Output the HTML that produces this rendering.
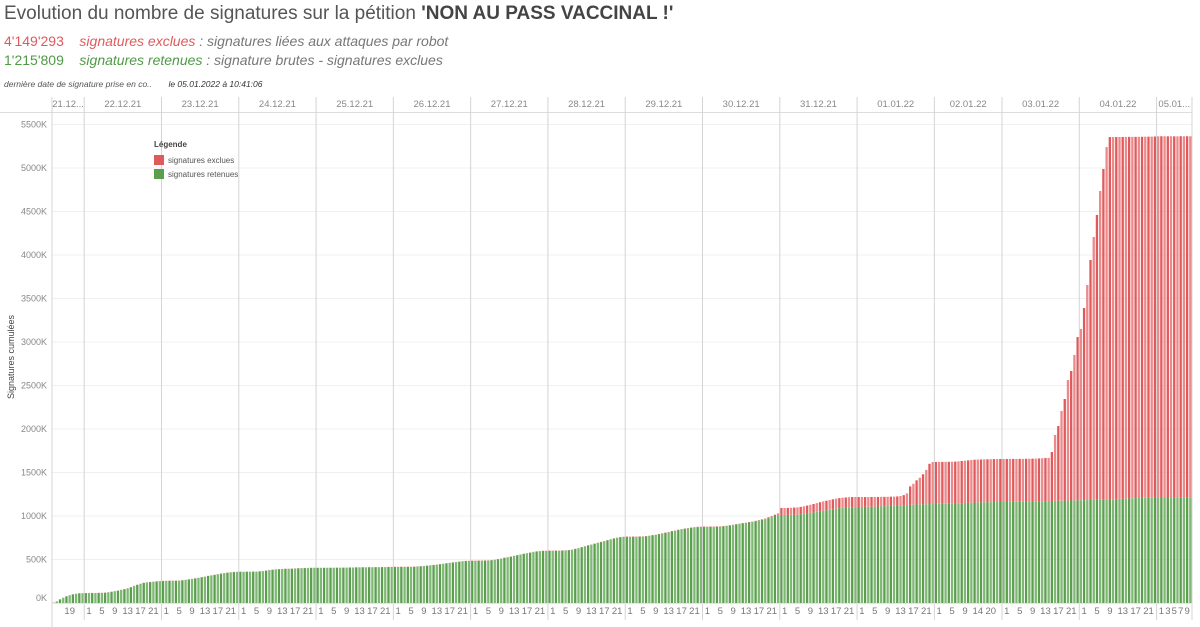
<!DOCTYPE html>
<html><head><meta charset="utf-8">
<style>
body{margin:0;background:#fff;width:1200px;height:627px;overflow:hidden;font-family:"Liberation Sans",sans-serif;}
.t{position:absolute;white-space:nowrap;}
</style></head>
<body>
<div class="t" style="left:4px;top:3px;font-size:19px;color:#555;">Evolution du nombre de signatures sur la pétition <b style="color:#444">'NON AU PASS VACCINAL !'</b></div>
<div class="t" style="left:4px;top:33px;font-size:14px;color:#777;"><span style="color:#e05a5c">4'149'293</span>&nbsp;&nbsp;&nbsp;&nbsp;<i><span style="color:#e05a5c">signatures exclues</span> : signatures liées aux attaques par robot</i></div>
<div class="t" style="left:4px;top:52px;font-size:14px;color:#777;"><span style="color:#4f9a45">1'215'809</span>&nbsp;&nbsp;&nbsp;&nbsp;<i><span style="color:#4f9a45">signatures retenues</span> : signature brutes - signatures exclues</i></div>
<div class="t" style="left:4px;top:79px;font-size:8.5px;color:#555;font-style:italic;">dernière date de signature prise en co..&nbsp;&nbsp;&nbsp;&nbsp;&nbsp;&nbsp;&nbsp;<span style="color:#333">le 05.01.2022 à 10:41:06</span></div>
<svg id="chart" width="1200" height="627" style="position:absolute;left:0;top:0;" xmlns="http://www.w3.org/2000/svg"></svg>
<script>
const dayNames=["21.12...","22.12.21","23.12.21","24.12.21","25.12.21","26.12.21","27.12.21","28.12.21","29.12.21","30.12.21","31.12.21","01.01.22","02.01.22","03.01.22","04.01.22","05.01..."];
const H24=[0,1,2,3,4,5,6,7,8,9,10,11,12,13,14,15,16,17,18,19,20,21,22,23];
const dayHours=[[14,15,16,17,18,19,20,21,22,23],H24,H24,H24,H24,H24,H24,H24,H24,H24,H24,H24,
[0,1,2,3,4,5,6,7,8,9,11,12,13,14,15,17,18,20,21,22,23],H24,H24,[0,1,2,3,4,5,6,7,8,9,10]];
const dayLabels=[[19],[1,5,9,13,17,21],[1,5,9,13,17,21],[1,5,9,13,17,21],[1,5,9,13,17,21],[1,5,9,13,17,21],[1,5,9,13,17,21],[1,5,9,13,17,21],[1,5,9,13,17,21],[1,5,9,13,17,21],[1,5,9,13,17,21],[1,5,9,13,17,21],[1,5,9,14,20],[1,5,9,13,17,21],[1,5,9,13,17,21],[1,3,5,7,9]];
// values in thousands
const greenK=[
[3,18,40,60,75,88,98,105,110,112],
[113,114,114,114,115,116,118,122,128,135,142,150,158,168,180,195,208,220,230,236,240,244,247,250],
[252,254,255,256,256,257,260,265,270,276,282,288,295,302,310,316,322,330,337,343,348,352,355,357],
[358,358,359,359,360,360,362,366,372,378,382,385,388,390,392,393,394,396,398,400,401,402,403,404],
[403,403,403,404,404,404,405,405,406,406,407,407,408,408,409,409,410,410,411,411,412,412,413,414],
[414,414,415,415,415,416,417,419,421,424,428,432,436,440,445,450,455,460,465,470,475,479,482,484],
[485,486,486,487,487,488,490,495,502,510,518,525,532,540,548,556,563,570,578,585,591,595,597,598],
[600,600,601,601,602,603,606,612,620,630,640,650,660,670,680,690,700,710,720,730,740,750,756,759],
[760,760,761,761,762,763,765,770,776,782,790,798,806,814,822,830,838,846,852,858,864,868,872,874],
[875,875,876,876,877,878,880,885,890,896,902,908,914,920,926,932,940,948,956,964,975,988,1000,1011],
[1012,1012,1013,1014,1015,1016,1020,1025,1030,1036,1042,1048,1054,1060,1066,1072,1078,1084,1090,1094,1097,1100,1102,1103],
[1103,1104,1105,1106,1107,1108,1109,1110,1112,1114,1116,1118,1120,1122,1124,1126,1128,1130,1132,1134,1135,1136,1137,1138],
[1139,1139,1140,1140,1141,1142,1143,1145,1147,1149,1151,1153,1155,1156,1157,1158,1159,1160,1160,1161,1161],
[1161,1161,1162,1162,1163,1163,1164,1165,1166,1167,1168,1169,1170,1171,1172,1173,1174,1175,1176,1177,1178,1178,1179,1180],
[1181,1182,1183,1184,1185,1186,1187,1188,1189,1190,1192,1194,1196,1198,1200,1202,1204,1206,1207,1208,1209,1210,1211,1212],
[1212,1213,1213,1213,1214,1214,1214,1215,1215,1216,1216]];
const excludedK=[
[1,2,2,2,2,2,2,2,2,2],
[2,2,2,2,2,2,2,2,2,2,2,2,2,2,2,2,2,2,2,2,2,2,2,2],
[2,2,2,2,2,2,2,2,2,2,2,2,2,2,2,2,2,2,2,2,2,2,2,2],
[2,2,2,2,2,2,2,2,2,2,2,2,2,2,2,2,2,2,2,2,2,2,2,2],
[2,2,2,2,2,2,2,2,2,2,2,2,2,2,2,2,2,2,2,2,2,2,2,2],
[2,2,2,2,2,2,2,2,2,2,2,2,2,2,2,2,2,2,2,2,2,2,2,2],
[3,3,3,3,3,3,3,3,3,3,3,3,3,3,3,3,3,3,3,3,3,3,3,3],
[3,3,3,3,3,3,3,3,3,3,3,3,3,3,3,3,3,3,3,3,3,3,3,3],
[4,4,4,4,4,4,4,4,4,4,4,4,4,4,4,4,4,4,4,4,4,4,4,4],
[4,4,4,4,4,4,4,4,4,4,4,4,4,4,4,4,4,5,6,8,10,12,15,20],
[80,80,80,81,82,83,85,87,90,93,96,100,104,108,110,112,114,116,116,116,116,116,116,115],
[115,114,113,112,112,111,110,110,108,107,106,105,105,108,116,134,212,240,278,306,345,394,463,483],
[482,483,482,483,482,482,482,483,485,487,489,491,492,493,493,493,493,493,494,494,494],
[494,494,494,494,493,494,493,493,492,492,492,493,494,495,496,563,757,859,1031,1168,1385,1489,1672,1877],
[1968,2209,2472,2759,3022,3274,3549,3801,4052,4166,4164,4162,4161,4159,4157,4156,4154,4152,4152,4151,4151,4150,4150,4150],
[4152,4152,4152,4151,4151,4150,4150,4150,4150,4149,4149]];
const yTicksK=[0,500,1000,1500,2000,2500,3000,3500,4000,4500,5000,5500];

const NS="http://www.w3.org/2000/svg";
const svg=document.getElementById('chart');
const X0=52,X1=1192,Y0=603;
let nBars=0;dayHours.forEach(d=>nBars+=d.length);
const step=(X1-X0)/nBars;
const xPos=i=>X0+i*step;
const yPos=v=>Y0-v*(43.5/500);
function mk(tag,attrs){const e=document.createElementNS(NS,tag);for(const k in attrs)e.setAttribute(k,attrs[k]);svg.appendChild(e);return e;}
// header band line
let e=mk('line',{x1:0,y1:112.5,x2:X1,y2:112.5,stroke:'#ddd'});


// gridlines + y labels
yTicksK.forEach(v=>{
  const y=yPos(v);
  if(v>0){const g=mk('line',{x1:X0,y1:y,x2:X1,y2:y,stroke:'#f0f0f0'});
  
  }
  const t=mk('text',{x:47,y:Math.min(y+3,601),'text-anchor':'end','font-size':'9',fill:'#888'});
  t.textContent=v+'K';
  
  
});
e=mk('text',{x:14,y:357,'text-anchor':'middle','font-size':'9',fill:'#444',transform:'rotate(-90 14 357)'});
e.textContent='Signatures cumulées';


// bars
let idx=0;
dayHours.forEach((hrs,d)=>{
  const start=idx;
  hrs.forEach((h,j)=>{
    const x=xPos(idx)+0.4, w=step-0.9;
    const g=greenK[d][j], r=excludedK[d][j];
    const light=(idx%2===1);
    const gb=mk('rect',{x:x,y:yPos(g),width:w,height:Y0-yPos(g),fill:light?'#7fb874':'#5a9e4e'});
    
    
    const rb=mk('rect',{x:x,y:yPos(g+r),width:w,height:yPos(g)-yPos(g+r),fill:light?'#ec8a8b':'#e05a5c'});
    
    
    if(dayLabels[d].includes(h)){
      const t=mk('text',{x:xPos(idx)+step/2,y:614,'text-anchor':'middle','font-size':'9.5',fill:'#777'});
      t.textContent=h;
      
      
    }
    idx++;
  });
  const xs=xPos(start), xe=xPos(idx);
  const t=mk('text',{x:(xs+xe)/2,y:107,'text-anchor':'middle','font-size':'9.5',fill:'#888'});
  t.textContent=dayNames[d];
  
  
  if(d>0){const l=mk('line',{x1:xs,y1:97,x2:xs,y2:620,stroke:'#d4d4d4'});
  
  }
});
e=mk('line',{x1:X0,y1:97,x2:X0,y2:627,stroke:'#d4d4d4'});


e=mk('line',{x1:X1,y1:97,x2:X1,y2:620,stroke:'#d4d4d4'});


e=mk('line',{x1:X0,y1:Y0+0.5,x2:X1,y2:Y0+0.5,stroke:'#e4e4e4'});


</script>
<div style="position:absolute;left:154px;top:140px;font-size:8px;color:#555;">
  <div style="font-weight:bold;color:#444;margin-bottom:4px;">Légende</div>
  <div style="display:flex;align-items:center;height:14px;"><span style="width:10px;height:10px;background:#e05a5c;display:inline-block;margin-right:4px;"></span>signatures exclues</div>
  <div style="display:flex;align-items:center;height:14px;"><span style="width:10px;height:10px;background:#5a9e4e;display:inline-block;margin-right:4px;"></span>signatures retenues</div>
</div>
</body></html>
